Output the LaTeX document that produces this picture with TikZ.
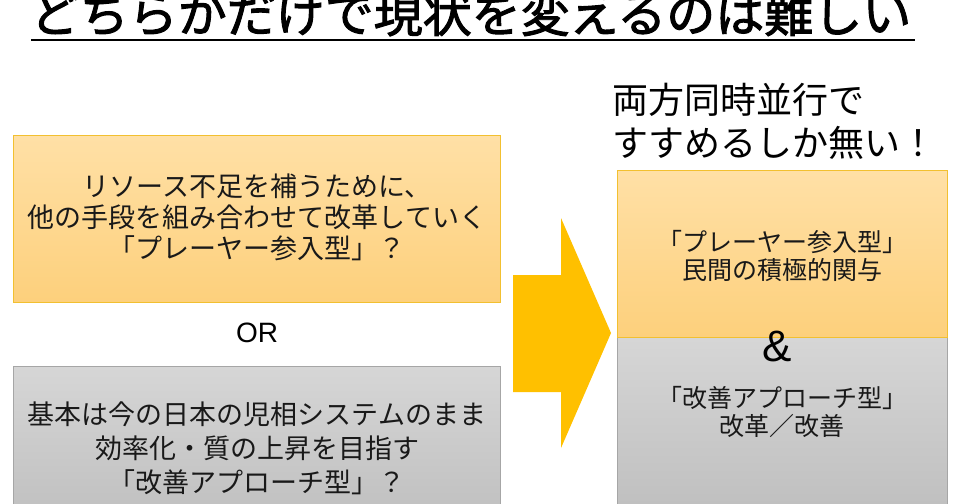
\documentclass[tikz,border=0pt]{standalone}
\usepackage{fontspec}
\newfontfamily\jp{Noto Sans CJK JP}
\newfontfamily\jpt[FakeBold=2]{Noto Sans CJK JP}
\newfontfamily\lat{Liberation Sans}
\definecolor{orfillA}{HTML}{FFE0A6}
\definecolor{orfillB}{HTML}{FDD07C}
\definecolor{orline}{HTML}{F2C030}
\definecolor{gyfillA}{HTML}{D6D6D6}
\definecolor{gyfillB}{HTML}{BDBDBD}
\definecolor{gyline}{HTML}{A6A6A6}
\definecolor{arrowcol}{HTML}{FFC000}
\begin{document}
\begin{tikzpicture}[x=1pt,y=-1pt,
  orbox/.style={draw=orline,line width=1.2pt,top color=orfillA,bottom color=orfillB,inner sep=0pt,anchor=north west},
  gybox/.style={draw=gyline,line width=1.2pt,top color=gyfillA,bottom color=gyfillB,inner sep=0pt,anchor=north west},
  boxtext/.style={font=\jp\fontsize{27}{31}\selectfont,align=center,inner sep=0pt,text=black!90},
  rtext/.style={font=\jp\fontsize{25}{28}\selectfont,align=center,inner sep=0pt,text=black!90}]
\useasboundingbox (0,0) rectangle (960,503);
% title
\node[font=\jpt\fontsize{49}{49}\selectfont,anchor=base,inner sep=0pt] (title) at (471,32) {どちらかだけで現状を変えるのは難しい};
\coordinate (ulA) at (31,40);
\coordinate (ulB) at (915,40);
\draw[line width=2.6pt] (ulA) -- (ulB);
% left boxes
\node[orbox,minimum width=487pt,minimum height=167pt] (boxA) at (13,135) {};
\node[boxtext] (textA) at (257,217) {リソース不足を補うために、\\他の手段を組み合わせて改革していく\\「プレーヤー参入型」？};
\node[font=\lat\fontsize{28}{28}\selectfont,inner sep=0pt] (or) at (257,333) {OR};
\node[gybox,minimum width=487pt,minimum height=170pt] (boxB) at (13,366) {};
\node[boxtext,font=\jp\fontsize{27}{34}\selectfont] (textB) at (257,448) {基本は今の日本の児相システムのまま\\効率化・質の上昇を目指す\\「改善アプローチ型」？};
% arrow
\fill[arrowcol] (513,275) -- (561,275) -- (561,218) -- (611,333) -- (561,448) -- (561,392) -- (513,392) -- cycle;
% right header
\node[font=\jp\fontsize{36}{43}\selectfont,align=left,anchor=west,inner sep=0pt] (head) at (612,121.5) {両方同時並行で\\すすめるしか無い！};
% right boxes
\node[gybox,minimum width=330pt,minimum height=190pt] (boxD) at (617,337) {};
\node[orbox,minimum width=330pt,minimum height=167pt] (boxC) at (617,170) {};
\node[rtext] (textC) at (782,256) {「プレーヤー参入型」\\民間の積極的関与};
\node[font=\lat\fontsize{44}{44}\selectfont,inner sep=0pt] (amp) at (777,346) {\&};
\node[rtext] (textD) at (782,412) {「改善アプローチ型」\\改革／改善};
\end{tikzpicture}
\end{document}
